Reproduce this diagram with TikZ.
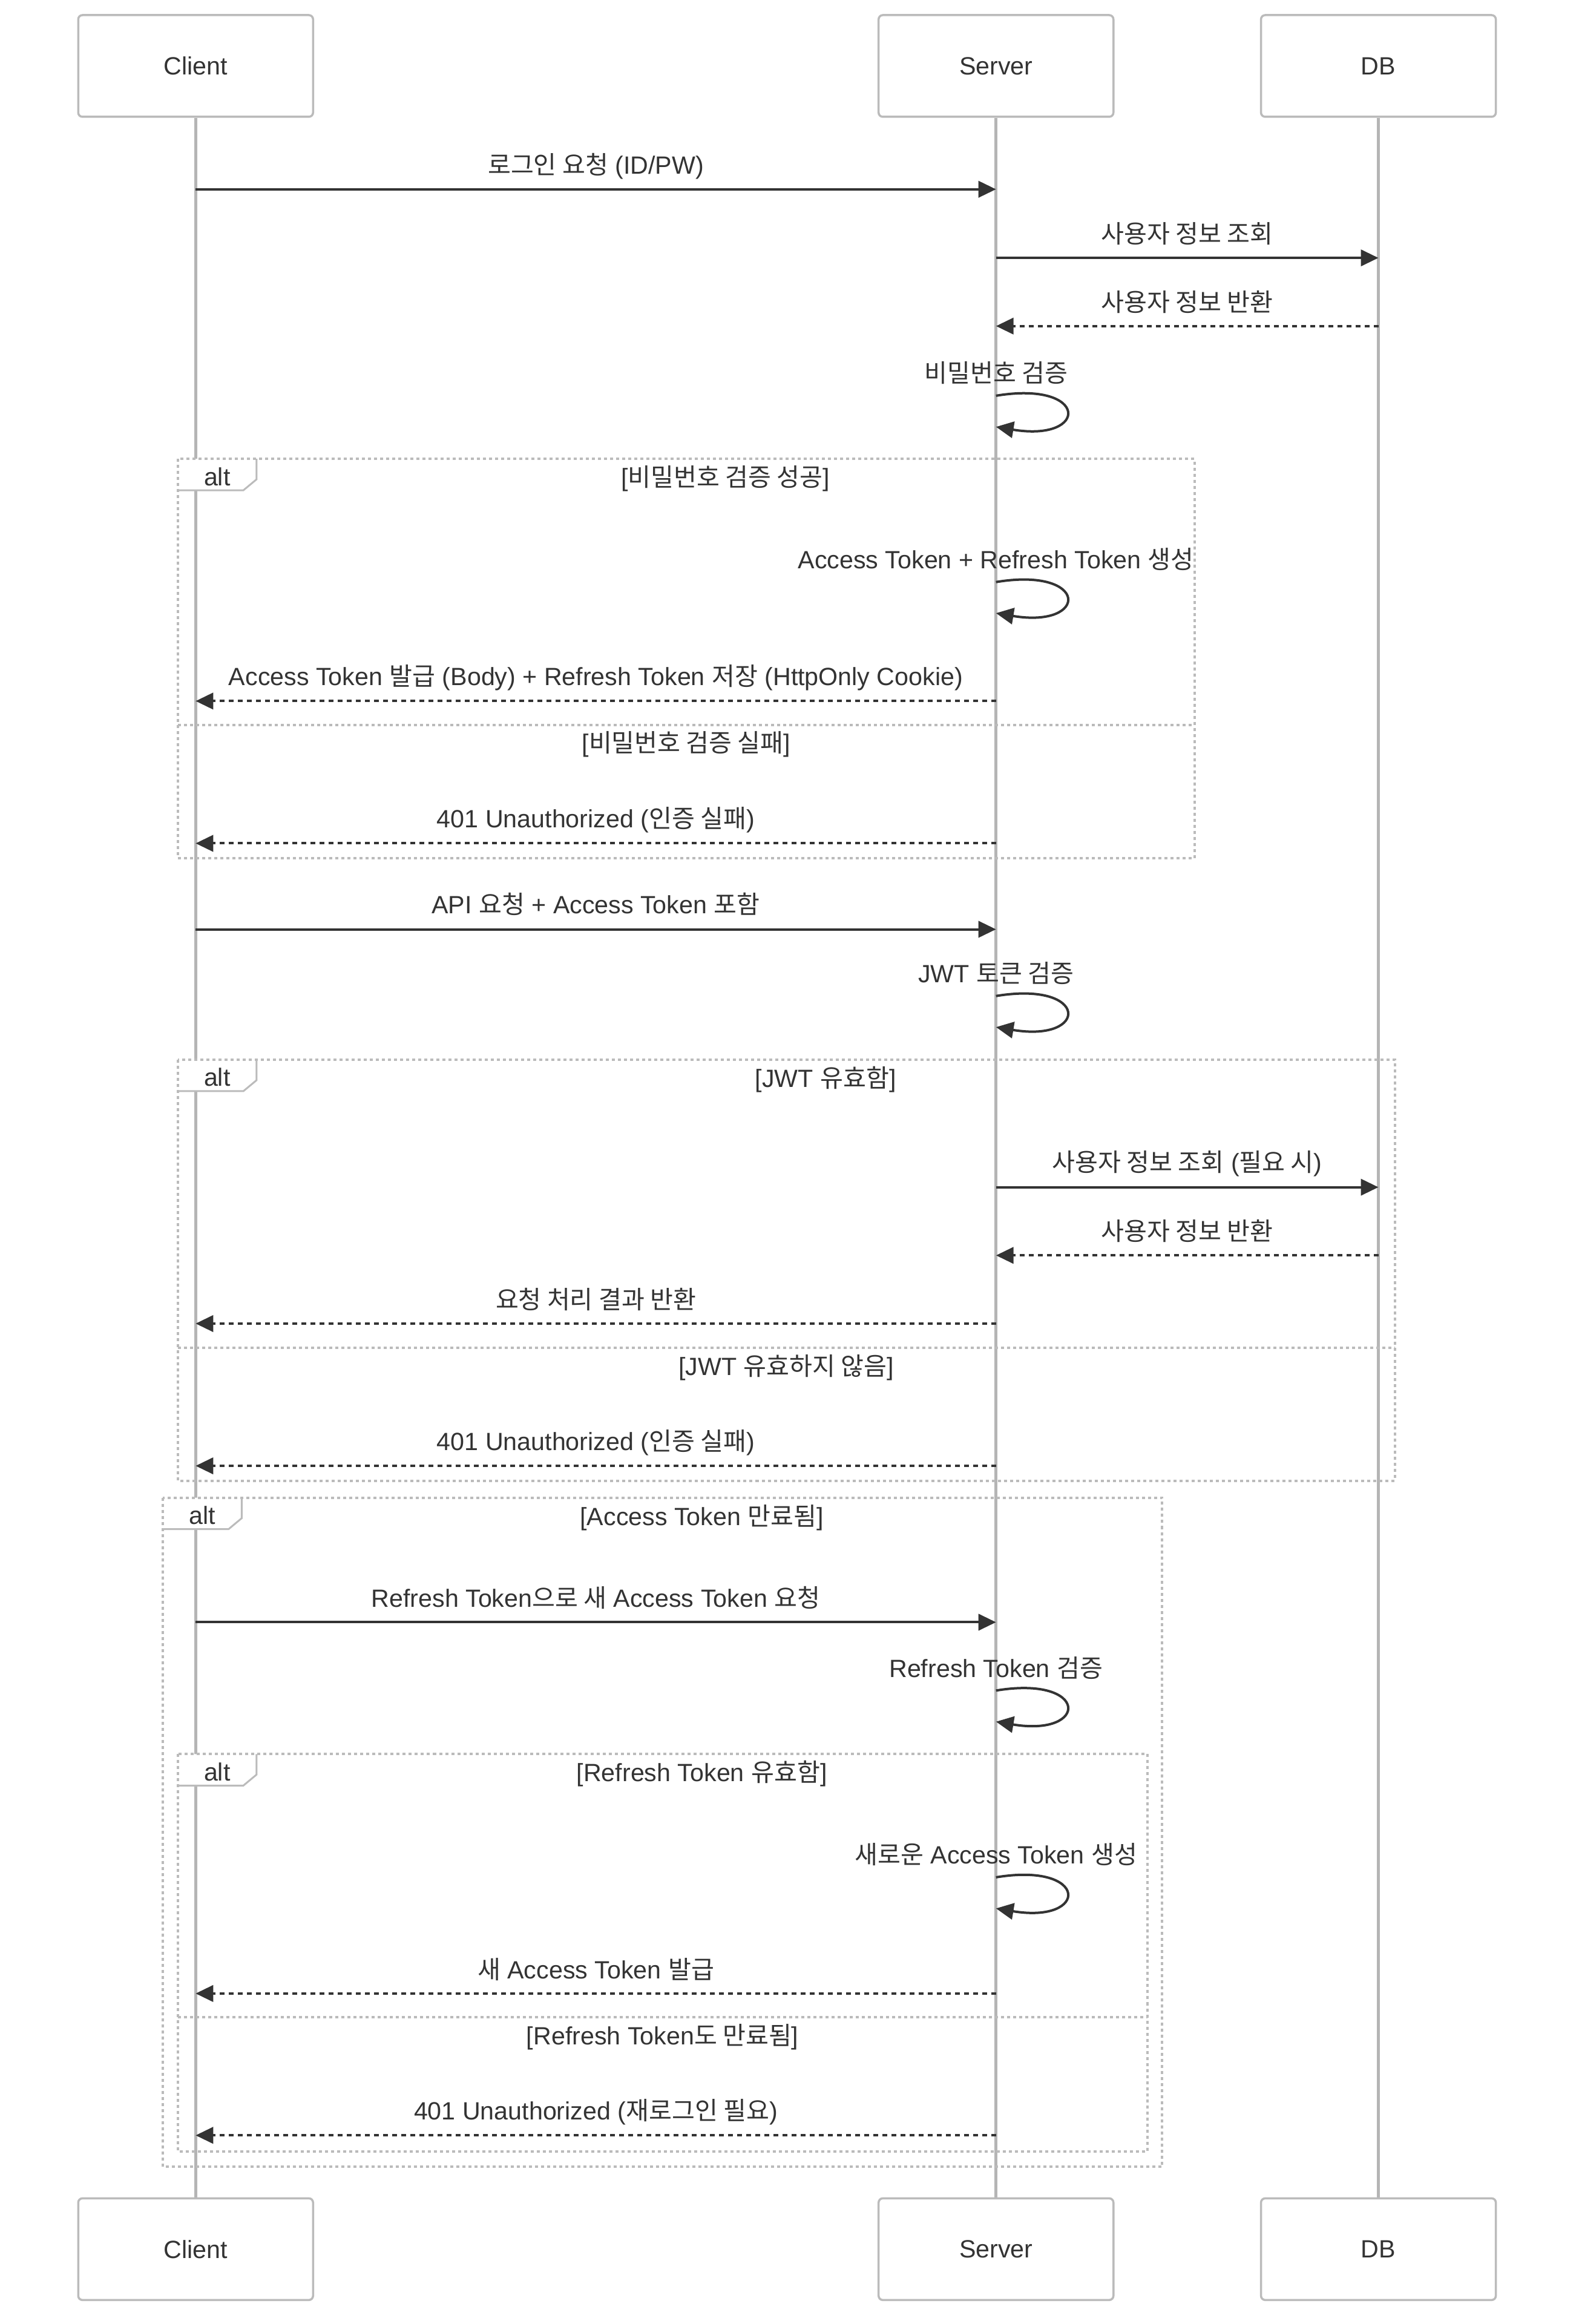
\documentclass[tikz,border=0pt]{standalone}
\usepackage{fontspec}
\setmainfont{Liberation Sans}
\newfontfamily\krf{Noto Sans CJK KR}
\usetikzlibrary{arrows.meta,calc}
\definecolor{txt}{HTML}{333333}
\definecolor{lgray}{HTML}{B5B5B5}
\definecolor{bgray}{HTML}{BBBBBB}
\newcommand\ko[1]{{\krf #1}}
\tikzset{
  actorbox/.style={draw=bgray, line width=3.5pt, fill=white, rounded corners=7pt,
    minimum width=388pt, minimum height=168pt, inner sep=0pt},
  lifeline/.style={draw=lgray, line width=4.5pt},
  msgsolid/.style={draw=txt, line width=4pt, -{Triangle[length=29pt,width=27pt]}},
  msgdash/.style={msgsolid, dash pattern=on 7.5pt off 7.5pt},
  altline/.style={draw=bgray, line width=4pt, dash pattern=on 5pt off 5pt},
  tabline/.style={draw=bgray, line width=3pt},
  lbl/.style={anchor=base, inner sep=0pt}
}
% #1 left, #2 top, #3 right, #4 bottom, #5 name of alt label
\newcommand\altframe[5]{%
  \fill[white] (#1,#2) -- ++(53.1,0) -- ++(0,13.8) -- ++(-8.9,7.4) -- ++(-44.2,0) -- cycle;
  \draw[altline] (#1,#2) rectangle (#3,#4);
  \draw[tabline] ($(#1,#2)+(53.1,0)$) -- ++(0,13.8) -- ++(-8.9,7.4) -- ++(-44.2,0);
  \node[lbl] (#5) at ($(#1,#2)+(26.5,17.9)$) {alt};
}
\begin{document}
\begin{tikzpicture}[x=2.4488pt, y=-2.4488pt, font=\fontsize{41.2pt}{49pt}\selectfont, text=txt]
\useasboundingbox (0,0) rectangle (1065,1568);

% participants
\node[actorbox] (cTop) at (132,44.5) {Client};
\node[actorbox] (sTop) at (672,44.5) {Server};
\node[actorbox] (dTop) at (930,44.5) {DB};
\node[actorbox] (cBot) at (132,1517.5) {Client};
\node[actorbox] (sBot) at (672,1517.5) {Server};
\node[actorbox] (dBot) at (930,1517.5) {DB};

% lifelines
\draw[lifeline] (cTop.south) -- (cBot.north);
\draw[lifeline] (sTop.south) -- (sBot.north);
\draw[lifeline] (dTop.south) -- (dBot.north);

% alt frames
\altframe{120}{309.6}{806}{579}{alt1}
\altframe{120}{715}{941}{999}{alt2}
\altframe{110}{1010.5}{784}{1462}{alt3}
\altframe{120}{1183.5}{774}{1451.7}{alt4}

% separators
\draw[altline] (120,489) -- (806,489);
\draw[altline] (120,909.5) -- (941,909.5);
\draw[altline] (120,1361) -- (774,1361);

% conditions
\node[lbl] (g1) at (489.5,328.1) {[\ko{비밀번호 검증 성공}]};
\node[lbl] (g2) at (463,507.5) {[\ko{비밀번호 검증 실패}]};
\node[lbl] (g3) at (557,733.5) {[JWT \ko{유효함}]};
\node[lbl] (g4) at (530.5,928) {[JWT \ko{유효하지 않음}]};
\node[lbl] (g5) at (473.5,1029) {[Access Token \ko{만료됨}]};
\node[lbl] (g6) at (473.5,1202) {[Refresh Token \ko{유효함}]};
\node[lbl] (g7) at (447,1379.5) {[Refresh Token\ko{도 만료됨}]};

% messages
\coordinate (m1a) at (cTop.south |- 0,127.7);
\coordinate (m1b) at (sTop.south |- 0,127.7);
\draw[msgsolid] (m1a) -- (m1b);
\node[lbl] (t1) at ($(m1a)!0.5!(m1b)+(0,-10.5)$) {\ko{로그인 요청} (ID/PW)};

\coordinate (m2a) at (sTop.south |- 0,174);
\coordinate (m2b) at (dTop.south |- 0,174);
\draw[msgsolid] (m2a) -- (m2b);
\node[lbl] (t2) at ($(m2a)!0.5!(m2b)+(0,-10)$) {\ko{사용자 정보 조회}};

\coordinate (m3a) at (dTop.south |- 0,220);
\coordinate (m3b) at (sTop.south |- 0,220);
\draw[msgdash] (m3a) -- (m3b);
\node[lbl] (t3) at ($(m3a)!0.5!(m3b)+(0,-10)$) {\ko{사용자 정보 반환}};

\coordinate (q1a) at (sTop.south |- 0,267);
\coordinate (q1b) at (sTop.south |- 0,288);
\draw[msgsolid] (q1a) .. controls +(63,-10.5) and +(63,10.5) .. (q1b);
\node[lbl] (u1) at ($(q1a)+(0,-9)$) {\ko{비밀번호 검증}};

\coordinate (q2a) at (sTop.south |- 0,392.7);
\coordinate (q2b) at (sTop.south |- 0,413.7);
\draw[msgsolid] (q2a) .. controls +(63,-10.5) and +(63,10.5) .. (q2b);
\node[lbl] (u2) at ($(q2a)+(0,-9)$) {Access Token + Refresh Token \ko{생성}};

\coordinate (m4a) at (sTop.south |- 0,473);
\coordinate (m4b) at (cTop.south |- 0,473);
\draw[msgdash] (m4a) -- (m4b);
\node[lbl] (t4) at ($(m4a)!0.5!(m4b)+(0,-10.5)$) {Access Token \ko{발급} (Body) + Refresh Token \ko{저장} (HttpOnly Cookie)};

\coordinate (m5a) at (sTop.south |- 0,569);
\coordinate (m5b) at (cTop.south |- 0,569);
\draw[msgdash] (m5a) -- (m5b);
\node[lbl] (t5) at ($(m5a)!0.5!(m5b)+(0,-10.5)$) {401 Unauthorized (\ko{인증 실패})};

\coordinate (m6a) at (cTop.south |- 0,627);
\coordinate (m6b) at (sTop.south |- 0,627);
\draw[msgsolid] (m6a) -- (m6b);
\node[lbl] (t6) at ($(m6a)!0.5!(m6b)+(0,-10.5)$) {API \ko{요청} + Access Token \ko{포함}};

\coordinate (q3a) at (sTop.south |- 0,672);
\coordinate (q3b) at (sTop.south |- 0,693);
\draw[msgsolid] (q3a) .. controls +(63,-10.5) and +(63,10.5) .. (q3b);
\node[lbl] (u3) at ($(q3a)+(0,-9)$) {JWT \ko{토큰 검증}};

\coordinate (m7a) at (sTop.south |- 0,801);
\coordinate (m7b) at (dTop.south |- 0,801);
\draw[msgsolid] (m7a) -- (m7b);
\node[lbl] (t7) at ($(m7a)!0.5!(m7b)+(0,-10.5)$) {\ko{사용자 정보 조회} (\ko{필요 시})};

\coordinate (m8a) at (dTop.south |- 0,847);
\coordinate (m8b) at (sTop.south |- 0,847);
\draw[msgdash] (m8a) -- (m8b);
\node[lbl] (t8) at ($(m8a)!0.5!(m8b)+(0,-10)$) {\ko{사용자 정보 반환}};

\coordinate (m9a) at (sTop.south |- 0,893);
\coordinate (m9b) at (cTop.south |- 0,893);
\draw[msgdash] (m9a) -- (m9b);
\node[lbl] (t9) at ($(m9a)!0.5!(m9b)+(0,-10)$) {\ko{요청 처리 결과 반환}};

\coordinate (m10a) at (sTop.south |- 0,989);
\coordinate (m10b) at (cTop.south |- 0,989);
\draw[msgdash] (m10a) -- (m10b);
\node[lbl] (t10) at ($(m10a)!0.5!(m10b)+(0,-10.5)$) {401 Unauthorized (\ko{인증 실패})};

\coordinate (m11a) at (cTop.south |- 0,1094.5);
\coordinate (m11b) at (sTop.south |- 0,1094.5);
\draw[msgsolid] (m11a) -- (m11b);
\node[lbl] (t11) at ($(m11a)!0.5!(m11b)+(0,-10)$) {Refresh Token\ko{으로 새} Access Token \ko{요청}};

\coordinate (q4a) at (sTop.south |- 0,1140.6);
\coordinate (q4b) at (sTop.south |- 0,1161.6);
\draw[msgsolid] (q4a) .. controls +(63,-10.5) and +(63,10.5) .. (q4b);
\node[lbl] (u4) at ($(q4a)+(0,-9)$) {Refresh Token \ko{검증}};

\coordinate (q5a) at (sTop.south |- 0,1266.6);
\coordinate (q5b) at (sTop.south |- 0,1287.6);
\draw[msgsolid] (q5a) .. controls +(63,-10.5) and +(63,10.5) .. (q5b);
\node[lbl] (u5) at ($(q5a)+(0,-9)$) {\ko{새로운} Access Token \ko{생성}};

\coordinate (m12a) at (sTop.south |- 0,1345);
\coordinate (m12b) at (cTop.south |- 0,1345);
\draw[msgdash] (m12a) -- (m12b);
\node[lbl] (t12) at ($(m12a)!0.5!(m12b)+(0,-10)$) {\ko{새} Access Token \ko{발급}};

\coordinate (m13a) at (sTop.south |- 0,1440.7);
\coordinate (m13b) at (cTop.south |- 0,1440.7);
\draw[msgdash] (m13a) -- (m13b);
\node[lbl] (t13) at ($(m13a)!0.5!(m13b)+(0,-10.5)$) {401 Unauthorized (\ko{재로그인 필요})};

\end{tikzpicture}
\end{document}
